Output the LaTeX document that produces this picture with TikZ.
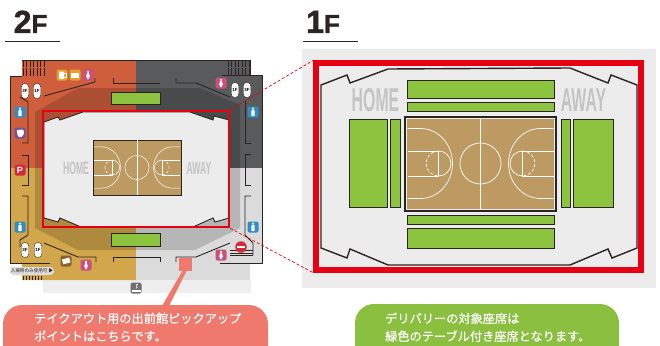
\documentclass[tikz,border=0pt]{standalone}
\usepackage{fontspec}
\setmainfont{Liberation Sans}
\newfontfamily\jpfont{Noto Sans CJK JP}
\newfontfamily\jpheavyfont[FakeBold=0.6]{Noto Sans CJK JP}
\newfontfamily\heavyfont[FakeBold=1.5]{Liberation Sans Bold}
\usetikzlibrary{positioning}
\definecolor{zoneorange}{HTML}{CF5F3C}
\definecolor{zoneyellow}{HTML}{D2A64B}
\definecolor{zonedark}{HTML}{595A5B}
\definecolor{zonelight}{HTML}{DBDBDB}
\definecolor{paleband}{HTML}{EEEEEE}
\definecolor{standgray}{HTML}{ECECEC}
\definecolor{seatgreen}{HTML}{8CC33F}
\definecolor{courtbrown}{HTML}{BD9A62}
\definecolor{framered}{HTML}{E60012}
\definecolor{wallblack}{HTML}{2B2422}
\definecolor{salmon}{HTML}{F0796E}
\definecolor{notegreen}{HTML}{8ABF40}
\definecolor{teamgray}{HTML}{C4C4C4}
\definecolor{iconblue}{HTML}{2F8CC4}
\definecolor{iconpink}{HTML}{CC4F7C}
\definecolor{iconamber}{HTML}{E3A02C}
\definecolor{iconpurple}{HTML}{7C4E98}
\definecolor{iconred}{HTML}{D42A3C}
\definecolor{iconbrown}{HTML}{8D5E30}
\definecolor{icongray}{HTML}{707070}
\tikzset{
    wall/.style={draw=wallblack, line width=0.9pt},
    seat/.style={draw=wallblack, line width=0.9pt, fill=seatgreen, inner sep=0pt},
    courtline/.style={draw=white, line width=#1},
    iconbox/.style={rounded corners=2pt, inner sep=0pt, minimum size=11pt, fill=#1},
    liftpill/.style={draw=wallblack, line width=0.4pt, fill=white, rounded corners=3.5pt, inner sep=0pt,
        minimum width=7.5pt, minimum height=15pt, font=\bfseries\fontsize{4.5}{5}\selectfont},
    teamname/.style={transform shape, xscale=.48, text=teamgray, inner sep=0pt, font=\bfseries\fontsize{#1}{#1}\selectfont},
    title/.style={inner sep=0pt, anchor=base west, text=wallblack},
    notetext/.style={text=white, anchor=north west, inner sep=0pt, align=left, font=\jpheavyfont\fontsize{12.2}{17.8}\selectfont},
    court/.pic={
        \draw[courtline=#1] (0,-46) -- (0,46);
        \draw[courtline=#1] (0,0) circle (20.5pt);
        \foreach \side in {1,-1} {
            \begin{scope}[xscale=\side]
                \draw[courtline=#1] (-73,-35) -- (-60,-35) arc[start angle=90, end angle=-90, x radius=32pt, y radius=35pt] -- (-73,35);
                \draw[courtline=#1] (-73,-12.5) -- (-42,-12.5) -- (-42,12.5) -- (-73,12.5);
                \draw[courtline=#1] (-42,-12.5) arc[start angle=90, end angle=-90, radius=12.5pt];
                \draw[courtline=#1, densely dashed] (-42,-12.5) arc[start angle=90, end angle=270, radius=12.5pt];
            \end{scope}
        }
    },
    ladyglyph/.pic={
        \fill[white] (0,-3.2) circle (1.2pt);
        \fill[white] (-0.9,-1.8) -- (0.9,-1.8) -- (2,2) -- (0.8,2) -- (0.8,4) -- (-0.8,4) -- (-0.8,2) -- (-2,2) -- cycle;
    },
    manglyph/.pic={
        \fill[white] (0,-3.4) circle (1.2pt);
        \fill[white, rounded corners=0.6pt] (-1.7,-1.9) rectangle (1.7,4.2);
    }
}
\begin{document}
\begin{tikzpicture}[x=1pt, y=-1pt]
    \useasboundingbox (0,0) rectangle (660,345);
    \clip (0,0) rectangle (660,345);

    \node[title, font=\heavyfont\fontsize{32}{32}\selectfont] (title2) at (13.5,33) {2\fontsize{26}{26}\selectfont F};
    \node[title, font=\heavyfont\fontsize{32}{32}\selectfont] (title1) at (306,33) {1\fontsize{26}{26}\selectfont F};
    \coordinate (rule2a) at (5,41);
    \coordinate (rule2b) at (60,41);
    \coordinate (rule1a) at (303,41);
    \coordinate (rule1b) at (358,41);
    \draw[wallblack, line width=0.8pt] (rule2a) -- (rule2b);
    \draw[wallblack, line width=0.8pt] (rule1a) -- (rule1b);

    \fill[paleband] (43,280) rectangle (251,293);
    \fill[zoneorange] (22,60) -- (136,60) -- (136,168) -- (10,168) -- (10,76) -- (22,76) -- cycle;
    \fill[zoneyellow] (10,168) -- (136,168) -- (136,280) -- (22,280) -- (22,263) -- (10,263) -- cycle;
    \fill[zonedark] (136,60) -- (250,60) -- (250,75) -- (262,75) -- (262,168) -- (136,168) -- cycle;
    \fill[zonelight] (136,168) -- (262,168) -- (262,263) -- (250,263) -- (250,280) -- (136,280) -- cycle;
    \fill[black, opacity=0.17] (35,112) -- (78,88) -- (200,88) -- (240,105) -- (240,228) -- (195,250) -- (78,250) -- (35,228) -- cycle;

    \draw[wall, fill=standgray] (44,122) -- (58,117) -- (60,120) -- (83,112) -- (190,112) -- (213,120) -- (214,116) -- (229,120)
        -- (229,218) -- (215,222) -- (213,218) -- (193,227) -- (81,227) -- (60,218) -- (58,222) -- (44,218) -- cycle;

    \draw[wallblack, line width=0.7pt] (22,60) -- (250,60) -- (250,75);
    \draw[wall] (22,76) -- (10,76) -- (10,263) -- (50,263);
    \draw[wall] (222,75) -- (262,75) -- (262,263) -- (220,263);
    \draw[wall] (44,96) -- (95,82) -- (95,78);
    \draw[wall] (113,78) -- (113,83) -- (160,83);
    \draw[wall] (176,78) -- (176,83) -- (196,83) -- (230,97);
    \draw[wall] (20,97) -- (28,102) -- (28,143) -- (22,143);
    \draw[wall] (22,155) -- (28,155) -- (28,185) -- (22,185);
    \draw[wall] (22,196) -- (28,196) -- (28,235) -- (20,240) -- (20,247);
    \draw[wall] (44,243) -- (78,257) -- (96,257) -- (96,262);
    \draw[wall] (113,262) -- (113,257) -- (160,257) -- (160,262);
    \draw[wall] (176,262) -- (176,257) -- (196,257) -- (230,243);
    \draw[wall] (245,100) -- (245,143) -- (251,143);
    \draw[wall] (251,154) -- (245,154) -- (245,185) -- (251,185);
    \draw[wall] (251,196) -- (245,196) -- (245,235) -- (253,243) -- (253,255);

    \foreach \i in {0,...,6} {
        \draw[wallblack, line width=0.5pt] (23+3.5*\i,60) -- (23+3.5*\i,67);
        \draw[wallblack, line width=0.5pt] (23+3.5*\i,68) -- (23+3.5*\i,76);
        \draw[wallblack, line width=0.5pt] (228+3.5*\i,60) -- (228+3.5*\i,67);
        \draw[wallblack, line width=0.5pt] (228+3.5*\i,68) -- (228+3.5*\i,75);
        \draw[wallblack, line width=0.5pt] (23+3*\i,276) -- (23+3*\i,280);
    }
    \draw[wallblack, line width=0.5pt] (230,250) -- (253,250);
    \draw[wallblack, line width=0.5pt] (230,253) -- (253,253);
    \draw[wallblack, line width=0.5pt] (230,255.5) -- (253,255.5);

    \node[seat, minimum width=49pt, minimum height=12pt] (greentop2) at (135.5,98) {};
    \node[seat, minimum width=49pt, minimum height=13pt] (greenbottom2) at (135.5,239.5) {};
    \node[draw=wallblack, line width=1pt, fill=courtbrown, minimum width=88pt, minimum height=55pt, inner sep=0pt] (court2) at (137,167.5) {};
    \pic[scale=0.59] at (court2.center) {court=0.5pt};
    \node[teamname=18] (home2) at (76,168) {HOME};
    \node[teamname=18] (away2) at (199,168) {AWAY};
    \node[draw=framered, line width=2.8pt, minimum width=186pt, minimum height=116pt, inner sep=0pt] (frame2) at (136,169) {};

    \foreach \x/\y/\hue/\glyph/\n in {88/75/iconpink/ladyglyph/a, 221/83/iconpink/ladyglyph/b, 86/265/iconpink/ladyglyph/c, 221/255/iconpink/ladyglyph/d,
        20/112/iconblue/manglyph/e, 20/227/iconblue/manglyph/f, 253/112/iconblue/manglyph/g, 253/227/iconblue/manglyph/h} {
        \node[iconbox=\hue] (icon\n) at (\x,\y) {};
        \pic at (icon\n.center) {\glyph};
    }
    \node[iconbox=iconamber] (beer) at (62,75) {};
    \fill[white, rounded corners=0.6pt] (59,71.5) rectangle (64,79);
    \draw[white, line width=0.7pt] (64,73) -- (66,73) -- (66,77) -- (64,77);
    \node[iconbox=iconamber] (food) at (75,75) {};
    \fill[white] (71,72.5) rectangle (79,77.5);
    \node[iconbox=iconpurple] (hand) at (20,133) {};
    \fill[white, rounded corners=1pt] (16.5,130) -- (23.5,129.5) -- (24,134) -- (21,137.5) -- (18,136.5) -- cycle;
    \node[iconbox=iconred, text=white, font=\bfseries\fontsize{9}{9}\selectfont] (parking) at (20,170) {P};
    \node[iconbox=iconbrown] (ticket) at (66,261) {};
    \fill[white, rotate around={15:(66,261)}] (62.5,258.5) rectangle (70,263.5);
    \node[iconbox=icongray] (smoke) at (136,288) {};
    \fill[white] (131.5,290) rectangle (140.5,292);
    \draw[white, line width=0.7pt] (136,288.5) .. controls (139,287) and (134,285) .. (138,284);
    \node[circle, fill=iconred, minimum size=11.5pt, inner sep=0pt] (noentry) at (241,247) {};
    \fill[white] (237,245.8) rectangle (245,248.2);

    \foreach \x/\y/\lab/\n in {25/91/3F/a, 37/91/1F/b, 25/250/3F/c, 38/250/1F/d, 235/90/1F/e, 247/90/3F/f} {
        \node[liftpill] (lift\n) at (\x,\y) {\lab};
    }
    \node[fill=zonelight, rounded corners=3.5pt, inner sep=0pt, minimum width=44pt, minimum height=8pt,
        font=\jpfont\fontsize{4.6}{5}\selectfont, text=wallblack] (entry) at (32,271) {入場時のみ使用可 ▶};

    \fill[standgray] (302,49) rectangle (656,288);
    \draw[wallblack, line width=1.4pt] (321,85) -- (347,75) -- (350,83) -- (388,69) -- (570,68) -- (608,83) -- (611,75) -- (637,85)
        -- (637,248) -- (612,258) -- (608,249) -- (570,265) -- (388,265) -- (350,249) -- (347,258) -- (321,248) -- cycle;
    \node[seat, minimum width=147pt, minimum height=18pt] (greentop1a) at (480.5,89) {};
    \node[seat, minimum width=147pt, minimum height=9pt] (greentop1b) at (480.5,106.5) {};
    \node[seat, minimum width=147pt, minimum height=9pt] (greenbottom1a) at (480.5,219.5) {};
    \node[seat, minimum width=147pt, minimum height=20pt] (greenbottom1b) at (480.5,238) {};
    \node[seat, minimum width=38pt, minimum height=88pt] (greenleft1a) at (368,163) {};
    \node[seat, minimum width=10pt, minimum height=88pt] (greenleft1b) at (395,163) {};
    \node[seat, minimum width=9pt, minimum height=88pt] (greenright1a) at (565.5,163) {};
    \node[seat, minimum width=40pt, minimum height=88pt] (greenright1b) at (593,163) {};
    \node[fill=courtbrown, minimum width=147pt, minimum height=90pt, inner sep=0pt] (court1) at (480.5,163.5) {};
    \node[draw=wallblack, line width=2pt, minimum width=151pt, minimum height=94pt, inner sep=0pt] (courtframe1) at (480.5,163.5) {};
    \pic at (court1.center) {court=0.7pt};
    \node[teamname=33] (home1) at (375.5,100) {HOME};
    \node[teamname=33] (away1) at (583.5,100) {AWAY};
    \node[draw=framered, line width=5.5pt, minimum width=325pt, minimum height=207pt, inner sep=0pt] (frame1) at (478.5,166.5) {};

    \draw[framered, densely dashed, line width=0.7pt] (frame2.north east) -- (frame1.north west);
    \draw[framered, densely dashed, line width=0.7pt] (frame2.south east) -- (frame1.south west);

    \node[fill=salmon, minimum size=13pt, inner sep=0pt] (pickup) at (185.5,264) {};
    \node[fill=salmon, rounded corners=19pt, minimum width=265pt, minimum height=60pt, inner sep=0pt] (pickupnote) at (135.5,335) {};
    \node[fill=notegreen, rounded corners=19pt, minimum width=264pt, minimum height=60pt, inner sep=0pt] (deliverynote) at (487,334) {};
    \coordinate (tipa) at (183,270);
    \coordinate (tipb) at (187,270);
    \coordinate (foota) at (162,306);
    \coordinate (footb) at (169,306);
    \fill[salmon] (tipa) -- (tipb) -- (footb) -- (foota) -- cycle;
    \node[notetext] (pickuptext) at (34,312.5) {テイクアウト用の出前館ピックアップ\\ポイントはこちらです。};
    \node[notetext] (deliverytext) at (385,312.5) {デリバリーの対象座席は\\緑色のテーブル付き座席となります。};
\end{tikzpicture}
\end{document}
